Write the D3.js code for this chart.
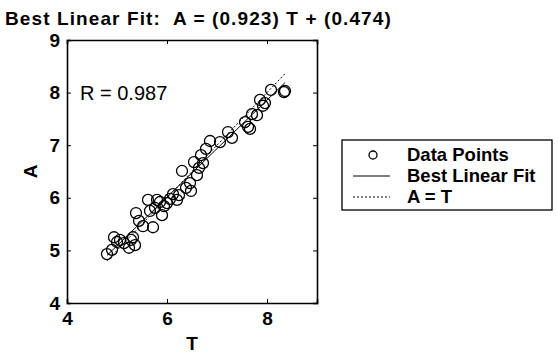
<!DOCTYPE html>
<html>
<head>
<meta charset="utf-8">
<script src="https://cdn.jsdelivr.net/npm/d3@7"></script>
<style>
  body { margin: 0; background: #fff; }
  text { font-family: "Liberation Sans", Arial, sans-serif; fill: #000; }
</style>
</head>
<body>
<div id="chart"></div>
<script>
// Targets (T) and network outputs (A)
var tValues = [4.80, 4.90, 4.94, 5.00, 5.06, 5.14, 5.24, 5.28, 5.32, 5.36,
  5.38, 5.44, 5.52, 5.62, 5.66, 5.72, 5.76, 5.80, 5.86, 5.90,
  5.94, 6.00, 6.06, 6.12, 6.20, 6.24, 6.30, 6.38, 6.46, 6.48,
  6.54, 6.60, 6.64, 6.68, 6.72, 6.78, 6.86, 7.06, 7.22, 7.30,
  7.56, 7.62, 7.66, 7.70, 7.80, 7.86, 7.96, 7.92, 8.08, 8.34, 8.36];
var aValues = [4.93, 5.01, 5.25, 5.16, 5.20, 5.14, 5.05, 5.20, 5.25, 5.10,
  5.71, 5.56, 5.46, 5.96, 5.75, 5.44, 5.81, 5.96, 5.92, 5.67,
  5.84, 5.90, 5.98, 6.07, 5.96, 6.05, 6.51, 6.19, 6.28, 6.13,
  6.68, 6.43, 6.57, 6.81, 6.66, 6.93, 7.08, 7.06, 7.25, 7.14,
  7.44, 7.35, 7.31, 7.59, 7.57, 7.86, 7.80, 7.75, 8.05, 8.01, 8.03];
var fitSlope = 0.923;
var fitIntercept = 0.474;
var rValue = 0.987;
var xTicks = [4, 6, 8];
var yTicks = [4, 5, 6, 7, 8, 9];
var legendLabels = ["Data Points", "Best Linear Fit", "A = T"];

var width = 558, height = 353;
var margin = {top: 40, right: 241, bottom: 50, left: 67};
var plotW = width - margin.left - margin.right;
var plotH = height - margin.top - margin.bottom;

var x = d3.scaleLinear().domain([4, 9]).range([0, plotW]);
var y = d3.scaleLinear().domain([4, 9]).range([plotH, 0]);

var svg = d3.select("#chart").append("svg")
  .attr("width", width)
  .attr("height", height);

var g = svg.append("g")
  .attr("transform", "translate(" + margin.left + "," + margin.top + ")");

// title (double space kept as in the original)
svg.append("text")
  .attr("x", 5)
  .attr("y", 25)
  .style("font-size", "19px")
  .style("font-weight", "bold")
  .style("letter-spacing", "1.1px")
  .style("white-space", "pre")
  .text("Best Linear Fit:  A = (" + fitSlope.toFixed(3) + ") T + (" + fitIntercept.toFixed(3) + ")");

// data points
var pts = tValues.map(function(t, i) { return {t: t, a: aValues[i]}; });
g.selectAll("circle.pt")
  .data(pts)
  .enter().append("circle")
  .attr("class", "pt")
  .attr("cx", function(d) { return x(d.t); })
  .attr("cy", function(d) { return y(d.a); })
  .attr("r", 5.5)
  .style("fill", "none")
  .style("stroke", "#000")
  .style("stroke-width", 1.3);

// fit line and A = T line, over the range of T
var tExt = d3.extent(tValues);
var line = d3.line()
  .x(function(d) { return x(d[0]); })
  .y(function(d) { return y(d[1]); });

g.append("path")
  .datum(tExt.map(function(t) { return [t, fitSlope * t + fitIntercept]; }))
  .attr("d", line)
  .style("fill", "none")
  .style("stroke", "#000")
  .style("stroke-width", 1);

g.append("path")
  .datum(tExt.map(function(t) { return [t, t]; }))
  .attr("d", line)
  .style("fill", "none")
  .style("stroke", "#000")
  .style("stroke-width", 1)
  .style("stroke-dasharray", "2,2");

// axes, matlab style: ticks inward on all four sides
var tickFont = function(sel) {
  sel.selectAll("text").style("font-size", "19px").style("font-weight", "bold")
    .style("font-family", "'Liberation Sans', Arial, sans-serif");
  sel.selectAll("line").style("stroke", "#000");
  sel.select(".domain").style("stroke", "#000").style("stroke-width", 1.6);
};

g.append("g")
  .attr("transform", "translate(0," + plotH + ")")
  .call(d3.axisBottom(x).tickValues(xTicks).tickSize(-4).tickPadding(9).tickFormat(d3.format("d")))
  .call(tickFont);
g.append("g")
  .call(d3.axisLeft(y).tickValues(yTicks).tickSize(-4).tickPadding(7).tickFormat(d3.format("d")))
  .call(tickFont);
g.append("g")
  .call(d3.axisTop(x).tickValues(xTicks).tickSize(-4).tickFormat(""))
  .call(tickFont);
g.append("g")
  .attr("transform", "translate(" + plotW + ",0)")
  .call(d3.axisRight(y).tickValues(yTicks).tickSize(-4).tickFormat(""))
  .call(tickFont);

// axis labels
g.append("text")
  .attr("x", plotW / 2)
  .attr("y", plotH + 47)
  .attr("text-anchor", "middle")
  .style("font-size", "19px")
  .style("font-weight", "bold")
  .text("T");
g.append("text")
  .attr("transform", "translate(-30," + (plotH / 2) + ") rotate(-90)")
  .attr("text-anchor", "middle")
  .style("font-size", "19px")
  .style("font-weight", "bold")
  .text("A");

// R value
g.append("text")
  .attr("x", 13)
  .attr("y", y(8) + 7)
  .style("font-size", "20px")
  .text("R = " + rValue.toFixed(3));

// legend
var leg = svg.append("g").attr("transform", "translate(342,140)");
leg.append("rect")
  .attr("width", 210)
  .attr("height", 70)
  .style("fill", "#fff")
  .style("stroke", "#000")
  .style("stroke-width", 1.3);
var rows = leg.selectAll("g.row")
  .data(legendLabels)
  .enter().append("g")
  .attr("class", "row")
  .attr("transform", function(d, i) { return "translate(0," + (15 + i * 21) + ")"; });
rows.append("text")
  .attr("x", 65)
  .attr("y", 6)
  .style("font-size", "18.5px")
  .style("font-weight", "bold")
  .text(function(d) { return d; });
rows.filter(function(d, i) { return i === 0; }).append("circle")
  .attr("cx", 31).attr("cy", 0).attr("r", 4)
  .style("fill", "none").style("stroke", "#000").style("stroke-width", 1.3);
rows.filter(function(d, i) { return i > 0; }).append("line")
  .attr("x1", 11).attr("x2", 48)
  .style("stroke", "#000")
  .style("stroke-width", 1)
  .style("stroke-dasharray", function(d, i) { return i === 1 ? "2,2" : null; });
</script>
</body>
</html>
